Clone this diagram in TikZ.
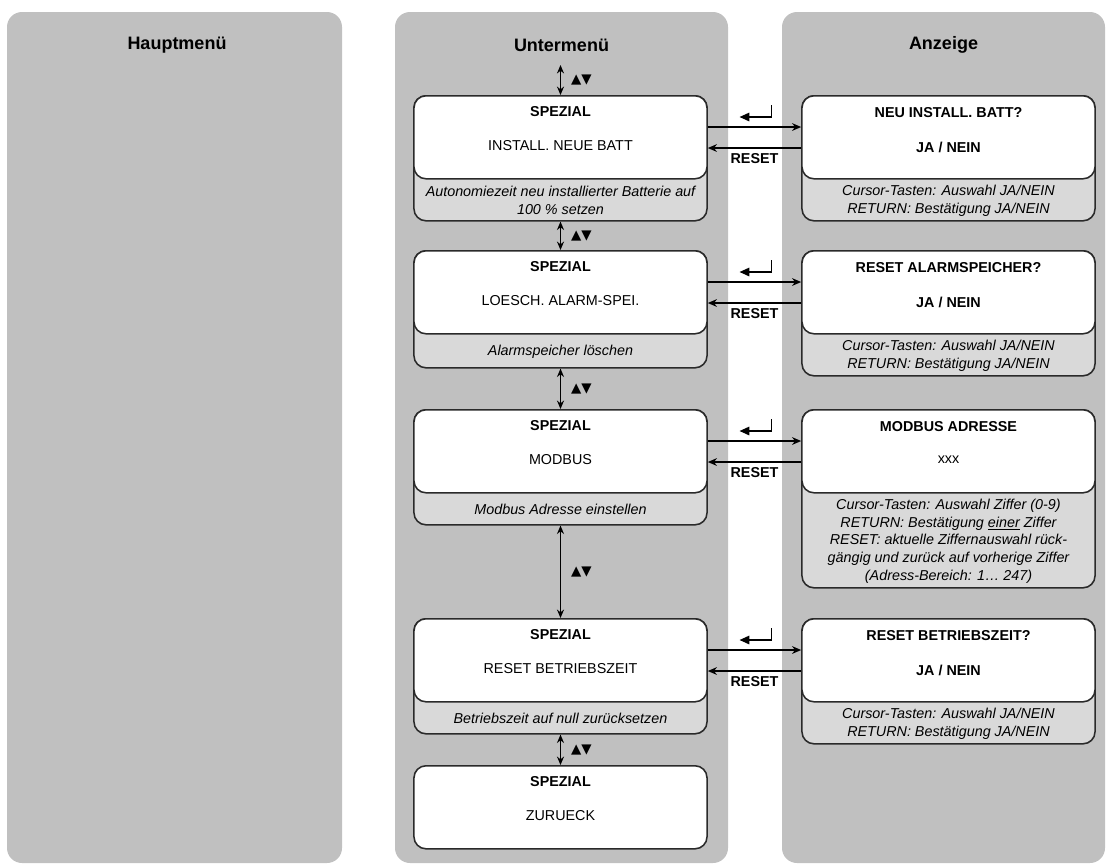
\documentclass[tikz,border=0pt]{standalone}
\usepackage{fontspec}
\setmainfont{Liberation Sans}
\newfontfamily\symfont{DejaVu Sans}
\usepackage{xcolor}
\definecolor{colgray}{HTML}{C0C0C0}
\definecolor{notegray}{HTML}{D9D9D9}
\definecolor{frame}{HTML}{2A2A2A}
\usepackage{tikz}
\usetikzlibrary{arrows.meta, positioning, calc}

\newcommand\boxfont{\fontsize{10.2}{12.6}\selectfont}

\tikzset{
  colpanel/.style={fill=colgray, rounded corners=0.375cm},
  colhead/.style={font=\fontsize{12.8}{15}\selectfont\bfseries, inner sep=0pt},
  notebox/.style={draw=frame, line width=1.1pt, fill=notegray, rounded corners=0.3cm,
    minimum width=7.325cm, anchor=north, inner sep=0pt},
  scrbox/.style={notebox, fill=white, minimum height=2.075cm},
  boxtitle/.style={font=\boxfont\bfseries, inner sep=0pt},
  boxline/.style={font=\boxfont, inner sep=0pt},
  notetext/.style={font=\boxfont\itshape, align=center, inner sep=0pt},
  navarrow/.style={{Stealth[length=6pt,width=5pt]}-{Stealth[length=6pt,width=5pt]}, line width=1.1pt},
  keyarrow/.style={-{Stealth[length=6.5pt,width=5.5pt]}, line width=1pt},
  enterkey/.style={-{Triangle[length=7pt,width=6pt]}, line width=1.2pt},
  keylabel/.style={font=\boxfont\bfseries, inner sep=0pt},
  updown/.style={font=\symfont\fontsize{9.5}{9.5}\selectfont, inner sep=0pt}
}

\begin{document}
\begin{tikzpicture}[x=0.025cm, y=-0.025cm]
  \useasboundingbox (0,0) rectangle (1107,864);

  % Spalten
  \fill[colpanel] (7,12) rectangle (342,863);
  \fill[colpanel] (395,12) rectangle (728,863);
  \fill[colpanel] (782,12) rectangle (1105,863);
  \node[colhead] (hmenu) at (177,45) {Hauptmenü};
  \node[colhead] (umenu) at (561.5,45) {Untermenü};
  \node[colhead] (anzeige) at (943.5,45) {Anzeige};

  % Untermenue: SPEZIAL -- INSTALL. NEUE BATT
  \node[notebox, minimum height=3.125cm] (m1g) at (560.5,95) {};
  \node[scrbox] (m1w) at (560.5,95) {};
  \node[boxtitle] (m1a) at ($(m1w.north)+(0,17)$) {SPEZIAL};
  \node[boxline] (m1b) at ($(m1w.north)+(0,51)$) {INSTALL. NEUE BATT};
  \node[notetext] (m1n) at ($(m1w.south)!.5!(m1g.south)$)
    {Autonomiezeit neu installierter Batterie auf\\100 \% setzen};

  % Untermenue: SPEZIAL -- LOESCH. ALARM-SPEI.
  \node[notebox, minimum height=2.925cm] (m2g) at (560.5,250) {};
  \node[scrbox] (m2w) at (560.5,250) {};
  \node[boxtitle] (m2a) at ($(m2w.north)+(0,17)$) {SPEZIAL};
  \node[boxline] (m2b) at ($(m2w.north)+(0,51)$) {LOESCH. ALARM-SPEI.};
  \node[notetext] (m2n) at ($(m2w.south)!.5!(m2g.south)$) {Alarmspeicher löschen};

  % Untermenue: SPEZIAL -- MODBUS
  \node[notebox, minimum height=2.875cm] (m3g) at (560.5,409) {};
  \node[scrbox] (m3w) at (560.5,409) {};
  \node[boxtitle] (m3a) at ($(m3w.north)+(0,17)$) {SPEZIAL};
  \node[boxline] (m3b) at ($(m3w.north)+(0,51)$) {MODBUS};
  \node[notetext] (m3n) at ($(m3w.south)!.5!(m3g.south)$) {Modbus Adresse einstellen};

  % Untermenue: SPEZIAL -- RESET BETRIEBSZEIT
  \node[notebox, minimum height=2.875cm] (m4g) at (560.5,618) {};
  \node[scrbox] (m4w) at (560.5,618) {};
  \node[boxtitle] (m4a) at ($(m4w.north)+(0,17)$) {SPEZIAL};
  \node[boxline] (m4b) at ($(m4w.north)+(0,51)$) {RESET BETRIEBSZEIT};
  \node[notetext] (m4n) at ($(m4w.south)!.5!(m4g.south)$) {Betriebszeit auf null zurücksetzen};

  % Untermenue: SPEZIAL -- ZURUECK (ohne Hinweis)
  \node[scrbox] (m5w) at (560.5,765) {};
  \node[boxtitle] (m5a) at ($(m5w.north)+(0,17)$) {SPEZIAL};
  \node[boxline] (m5b) at ($(m5w.north)+(0,51)$) {ZURUECK};

  % Anzeige: NEU INSTALL. BATT?
  \node[notebox, minimum height=3.125cm] (d1g) at (948.5,95) {};
  \node[scrbox] (d1w) at (948.5,95) {};
  \node[boxtitle] (d1a) at ($(d1w.north)+(0,18)$) {NEU INSTALL. BATT?};
  \node[boxtitle] (d1b) at ($(d1w.north)+(0,52)$) {JA / NEIN};
  \node[notetext] (d1n) at ($(d1w.south)!.5!(d1g.south)$)
    {Cursor-Tasten: Auswahl JA/NEIN\\RETURN: Bestätigung JA/NEIN};

  % Anzeige: RESET ALARMSPEICHER?
  \node[notebox, minimum height=3.125cm] (d2g) at (948.5,250) {};
  \node[scrbox] (d2w) at (948.5,250) {};
  \node[boxtitle] (d2a) at ($(d2w.north)+(0,18)$) {RESET ALARMSPEICHER?};
  \node[boxtitle] (d2b) at ($(d2w.north)+(0,52)$) {JA / NEIN};
  \node[notetext] (d2n) at ($(d2w.south)!.5!(d2g.south)$)
    {Cursor-Tasten: Auswahl JA/NEIN\\RETURN: Bestätigung JA/NEIN};

  % Anzeige: MODBUS ADRESSE
  \node[notebox, minimum height=4.45cm] (d3g) at (948.5,409) {};
  \node[scrbox] (d3w) at (948.5,409) {};
  \node[boxtitle] (d3a) at ($(d3w.north)+(0,18)$) {MODBUS ADRESSE};
  \node[boxline] (d3b) at ($(d3w.north)+(0,51)$) {xxx};
  \node[notetext] (d3n) at ($(d3w.south)!.5!(d3g.south)$)
    {Cursor-Tasten: Auswahl Ziffer (0-9)\\RETURN: Bestätigung \underline{einer} Ziffer\\
     RESET: aktuelle Ziffernauswahl rück-\\gängig und zurück auf vorherige Ziffer\\
     (Adress-Bereich: 1… 247)};

  % Anzeige: RESET BETRIEBSZEIT?
  \node[notebox, minimum height=3.125cm] (d4g) at (948.5,618) {};
  \node[scrbox] (d4w) at (948.5,618) {};
  \node[boxtitle] (d4a) at ($(d4w.north)+(0,18)$) {RESET BETRIEBSZEIT?};
  \node[boxtitle] (d4b) at ($(d4w.north)+(0,52)$) {JA / NEIN};
  \node[notetext] (d4n) at ($(d4w.south)!.5!(d4g.south)$)
    {Cursor-Tasten: Auswahl JA/NEIN\\RETURN: Bestätigung JA/NEIN};

  % Blaettern mit den Cursor-Tasten
  \coordinate (navtop) at (560.5,65);
  \draw[navarrow] (navtop) -- (m1w.north) node[midway, right=7pt, updown] {▲▼};
  \draw[navarrow] (m1g.south) -- (m2w.north) node[midway, right=7pt, updown] {▲▼};
  \draw[navarrow] (m2g.south) -- (m3w.north) node[midway, right=7pt, updown] {▲▼};
  \draw[navarrow] (m3g.south) -- (m4w.north) node[midway, right=7pt, updown] {▲▼};
  \draw[navarrow] (m4g.south) -- (m5w.north) node[midway, right=7pt, updown] {▲▼};

  % RETURN hin, RESET zurueck
  \foreach \i in {1,2,3,4} {
    \draw[keyarrow] ([yshift=-0.8cm]m\i w.north east) -- ([yshift=-0.8cm]d\i w.north west);
    \draw[keyarrow] ([yshift=-1.325cm]d\i w.north west) -- ([yshift=-1.325cm]m\i w.north east);
    \coordinate (k\i) at ($(m\i w.north east)!.5!(d\i w.north west)$);
    \draw[enterkey] ($(k\i)+(17,10)$) |- ($(k\i)+(-15,22)$);
    \node[keylabel] (r\i) at ($(k\i)+(0,64)$) {RESET};
  }
\end{tikzpicture}
\end{document}
